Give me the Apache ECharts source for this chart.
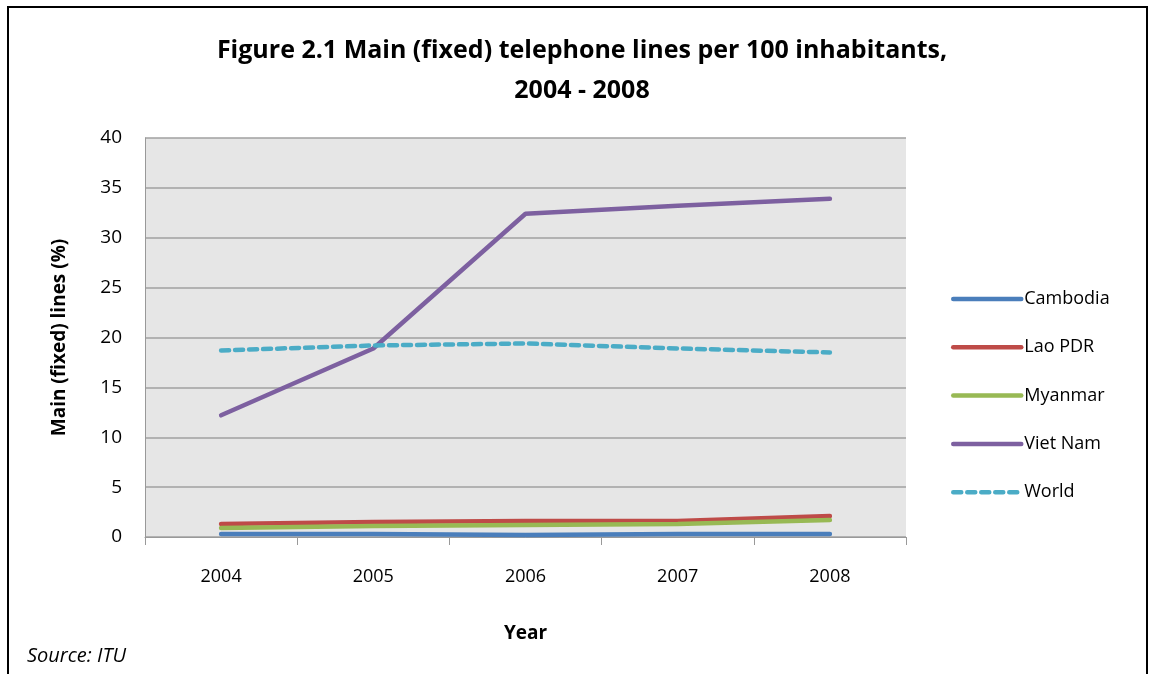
<!DOCTYPE html>
<html>
<head>
<meta charset="utf-8">
<script src="https://cdn.jsdelivr.net/npm/echarts@6/dist/echarts.min.js"></script>
<style>
  html, body { margin: 0; padding: 0; background: #ffffff; }
  #chart { width: 1153px; height: 674px; }
</style>
</head>
<body>
<div id="chart"></div>
<script>
// Main (fixed) telephone lines per 100 inhabitants, 2004 - 2008
const years = ['2004', '2005', '2006', '2007', '2008'];
const cambodia = [0.3, 0.3, 0.2, 0.3, 0.3];
const laoPDR = [1.3, 1.5, 1.6, 1.6, 2.1];
const myanmar = [0.9, 1.1, 1.2, 1.3, 1.7];
const vietNam = [12.2, 18.9, 32.4, 33.2, 33.9];
const world = [18.7, 19.2, 19.4, 18.9, 18.5];
const yTicks = [0, 5, 10, 15, 20, 25, 30, 35, 40];

const FONT = '"Open Sans", "Noto Sans", sans-serif';

const seriesDefs = [
  { name: 'Cambodia', data: cambodia, color: '#4a7ebb', type: 'solid' },
  { name: 'Lao PDR', data: laoPDR, color: '#be4b48', type: 'solid' },
  { name: 'Myanmar', data: myanmar, color: '#98b954', type: 'solid' },
  { name: 'Viet Nam', data: vietNam, color: '#7d60a0', type: 'solid' },
  { name: 'World', data: world, color: '#4bacc6', type: [8, 6] }
];

const chart = echarts.init(document.getElementById('chart'), null, { renderer: 'canvas' });

chart.setOption({
  animation: false,
  backgroundColor: '#ffffff',
  title: {
    text: 'Figure 2.1 Main (fixed) telephone lines per 100 inhabitants,\n2004 - 2008',
    left: 577,
    textAlign: 'center',
    top: 26,
    textStyle: {
      fontFamily: FONT,
      fontWeight: 'bold',
      fontSize: 25,
      lineHeight: 40,
      color: '#000000'
    }
  },
  legend: {
    orient: 'vertical',
    left: 946,
    top: 282,
    itemWidth: 68,
    itemHeight: 24,
    itemGap: 24.3,
    data: seriesDefs.map(s => s.name),
    itemStyle: { opacity: 0 },
    lineStyle: { width: 4.5, cap: 'round' },
    textStyle: {
      fontFamily: FONT, fontSize: 18, color: '#000000',
      padding: [0, 0, 0, -2], lineHeight: 24, height: 24
    }
  },
  grid: { left: 145, top: 138, width: 761, height: 399 },
  xAxis: {
    type: 'category',
    data: years,
    boundaryGap: true,
    name: 'Year',
    nameLocation: 'middle',
    nameGap: 87,
    nameTextStyle: { fontFamily: FONT, fontWeight: 'bold', fontSize: 19, color: '#000000' },
    axisLine: { lineStyle: { color: '#999999', width: 1 } },
    axisTick: { show: true, length: 8, lineStyle: { color: '#999999' } },
    axisLabel: { fontFamily: FONT, fontSize: 18, color: '#000000', margin: 31 },
    splitLine: { show: false }
  },
  yAxis: {
    type: 'value',
    min: 0,
    max: 40,
    interval: 5,
    name: 'Main (fixed) lines (%)',
    nameLocation: 'middle',
    nameRotate: 90,
    nameGap: 76,
    nameTextStyle: { fontFamily: FONT, fontWeight: 'bold', fontSize: 19, color: '#000000' },
    axisLine: { show: true, lineStyle: { color: '#999999', width: 1 } },
    axisTick: { show: false },
    axisLabel: {
      fontFamily: FONT, fontSize: 19, color: '#000000', margin: 23,
      formatter: v => (yTicks.indexOf(v) >= 0 ? String(v) : '')
    },
    splitLine: { show: true, lineStyle: { color: '#a0a0a0', width: 1.5 } },
    splitArea: { show: true, areaStyle: { color: ['#e6e6e6', '#e6e6e6'] } }
  },
  series: seriesDefs.map(s => ({
    name: s.name,
    type: 'line',
    data: s.data,
    symbol: 'none',
    smooth: false,
    color: s.color,
    lineStyle: { color: s.color, width: 4.5, type: s.type, cap: 'round' }
  })),
  graphic: [
    {
      type: 'rect',
      shape: { x: 8, y: 7, width: 1139, height: 700 },
      style: { fill: 'none', stroke: '#000000', lineWidth: 2 },
      silent: true
    },
    {
      type: 'text',
      left: 27,
      top: 646,
      style: {
        text: 'Source: ITU',
        font: 'italic 20px ' + FONT,
        fill: '#000000'
      }
    }
  ]
});
</script>
</body>
</html>
